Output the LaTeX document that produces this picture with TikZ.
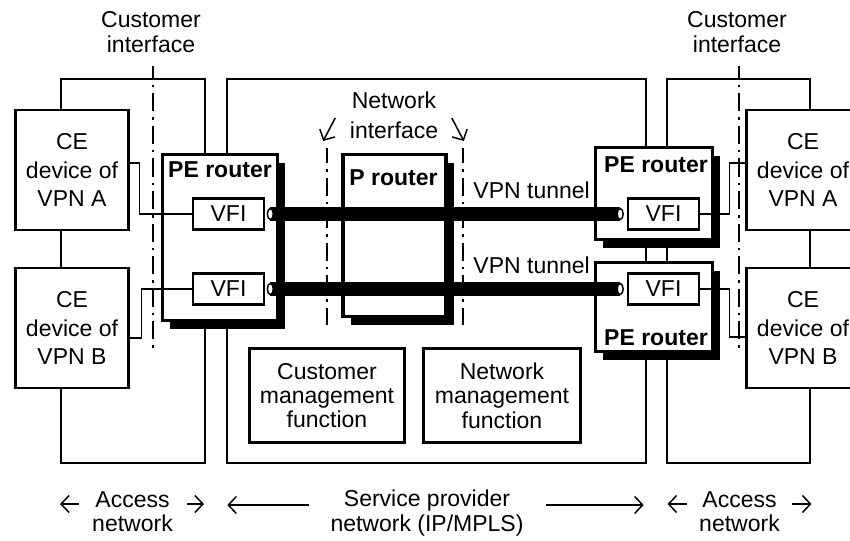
\documentclass[tikz,border=0pt]{standalone}
\usepackage{fontspec}
\setmainfont{Liberation Sans}
\usetikzlibrary{arrows.meta,shadows,shapes.geometric}

\begin{document}
\begin{tikzpicture}[x=1pt,y=-1pt]
\tikzstyle{every node}=[inner sep=0pt, font=\fontsize{23}{24.5}\selectfont]
\tikzstyle{netframe}=[line width=1.7pt]
\tikzstyle{iface}=[line width=2.8pt, dash pattern=on 18pt off 6pt on 2.5pt off 6pt]
\tikzstyle{ce}=[draw, line width=2.7pt, fill=white, minimum width=113pt, minimum height=120pt, align=center, font=\fontsize{23}{28.5}\selectfont]
\tikzstyle{mgmt}=[draw, line width=2.7pt, fill=white, minimum height=94pt, align=center, font=\fontsize{23}{24.3}\selectfont]
\tikzstyle{router}=[draw, line width=3.3pt, fill=white, drop shadow={fill=black, opacity=1, shadow xshift=7.5pt, shadow yshift=-8.5pt}]
\tikzstyle{vfi}=[draw, line width=2.7pt, fill=white, minimum width=71pt, minimum height=31pt]
\tikzstyle{rtitle}=[font=\fontsize{23}{24.5}\selectfont\bfseries, anchor=base]
\tikzstyle{link}=[line width=1.5pt]
\tikzstyle{tunnel}=[line width=14pt]
\tikzstyle{tunend}=[ellipse, draw, line width=1.5pt, fill=white, minimum width=6pt, minimum height=11pt]
\tikzstyle{arr}=[line width=1.5pt, -{Straight Barb[length=8pt,width=17pt]}]
\useasboundingbox (0,0) rectangle (850,540);
\clip (0,0) rectangle (850,540);
\draw[netframe] (61,79) rectangle (205,463);
\draw[netframe] (227,79) rectangle (646,463);
\draw[netframe] (667,79) rectangle (810,463);
\draw[iface, dash phase=5pt] (153,66) -- (153,350);
\draw[iface, dash phase=5pt] (739,66) -- (739,350);
\draw[iface, dash phase=3pt] (327,148) -- (327,325);
\draw[iface, dash phase=3pt] (463,148) -- (463,325);
\draw (72,170) node (ceA) [ce] {CE\\device of\\VPN A};
\draw (72,328) node (ceB) [ce] {CE\\device of\\VPN B};
\draw (803,170) node (ceC) [ce] {CE\\device of\\VPN A};
\draw (803,328) node (ceD) [ce] {CE\\device of\\VPN B};
\draw (327,395.5) node (cmf) [mgmt, minimum width=155pt] {Customer\\management\\function};
\draw (502,395.5) node (nmf) [mgmt, minimum width=157pt] {Network\\management\\function};
\draw (220,237.5) node (pe1) [router, minimum width=115pt, minimum height=166pt] {};
\draw (394.5,235.5) node (pr) [router, minimum width=103pt, minimum height=162pt] {};
\draw (654,193.5) node (pe2) [router, minimum width=117pt, minimum height=92pt] {};
\draw (654,307) node (pe3) [router, minimum width=117pt, minimum height=89pt] {};
\draw (220,177) node (pe1t) [rtitle] {PE router};
\draw (393.5,185) node (prt) [rtitle] {P router};
\draw (656,172) node (pe2t) [rtitle] {PE router};
\draw (656,345) node (pe3t) [rtitle] {PE router};
\draw (228.5,214) node (vfi1) [vfi] {VFI};
\draw (228.5,289) node (vfi2) [vfi] {VFI};
\draw (663.5,214) node (vfi3) [vfi] {VFI};
\draw (663.5,289) node (vfi4) [vfi] {VFI};
\draw[link] ([yshift=7pt]ceA.east) -- ++(9.5,0) |- (vfi1.west);
\draw[link] ([yshift=-10pt]ceB.east) -- ++(11.5,0) |- (vfi2.west);
\draw[link] (vfi3.east) -- ++(29,0) |- ([yshift=7pt]ceC.west);
\draw[link] (vfi4.east) -- ++(29,0) |- ([yshift=-9pt]ceD.west);
\coordinate (ta1) at ([xshift=5pt]vfi1.east);
\coordinate (tb1) at ([xshift=-6.5pt]vfi3.west);
\coordinate (ta2) at ([xshift=5pt]vfi2.east);
\coordinate (tb2) at ([xshift=-6.5pt]vfi4.west);
\draw[tunnel] (ta1) -- (tb1);
\draw[tunnel] (ta2) -- (tb2);
\draw (ta1) node (ea1) [tunend] {};
\draw (tb1) node (eb1) [tunend] {};
\draw (ta2) node (ea2) [tunend] {};
\draw (tb2) node (eb2) [tunend] {};
\draw (590,198) node (vt1) [anchor=base east] {VPN tunnel};
\draw (590,273) node (vt2) [anchor=base east] {VPN tunnel};
\draw (151,32) node (ci1) [align=center] {Customer\\interface};
\draw (737,32) node (ci2) [align=center] {Customer\\interface};
\draw (394,115) node (nif) [align=center, font=\fontsize{23}{30}\selectfont] {Network\\interface};
\draw (132.5,512) node (acc1) [align=center, font=\fontsize{23}{24}\selectfont] {Access\\network};
\draw (739.5,512) node (acc2) [align=center, font=\fontsize{23}{24}\selectfont] {Access\\network};
\draw (427,513.5) node (spn) [align=center, font=\fontsize{23}{25}\selectfont] {Service provider\\network (IP/MPLS)};
\draw[arr] ([shift={(-14.5pt,-3pt)}]nif.west) -- ++(-12,23);
\draw[arr] ([shift={(13.5pt,-3pt)}]nif.east) -- ++(12,23);
\draw[arr] ([shift={(-13pt,8pt)}]acc1.west) -- ++(-19,0);
\draw[arr] ([shift={(14pt,8pt)}]acc1.east) -- ++(17,0);
\draw[arr] ([shift={(-12.5pt,8pt)}]acc2.west) -- ++(-19,0);
\draw[arr] ([shift={(12.5pt,8pt)}]acc2.east) -- ++(19,0);
\draw[arr] ([shift={(-21pt,8.5pt)}]spn.west) -- ++(-82,0);
\draw[arr] ([shift={(22pt,8.5pt)}]spn.east) -- ++(98,0);
\end{tikzpicture}
\end{document}
